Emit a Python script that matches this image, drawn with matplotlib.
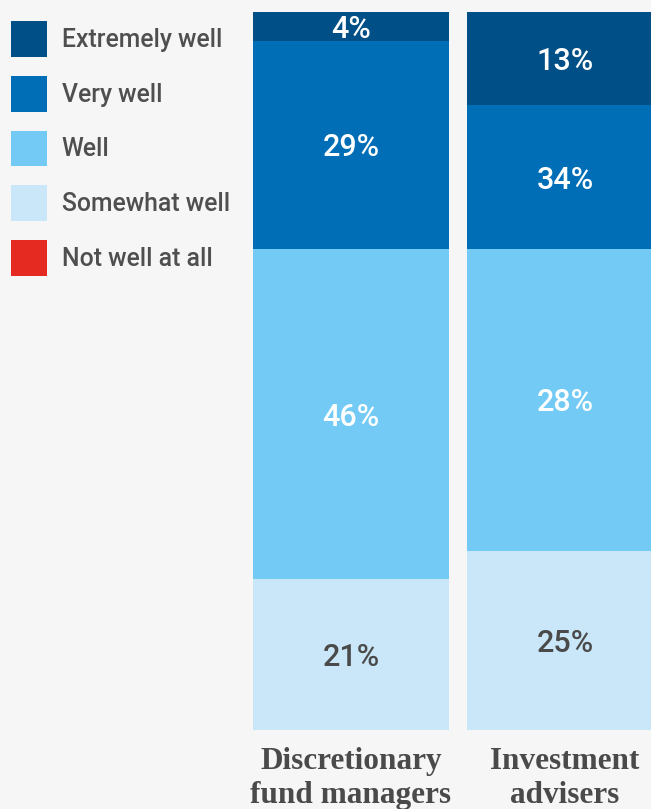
import numpy as np
import matplotlib.pyplot as plt
from matplotlib.patches import Patch

# categories (bars) and response levels
categories = ["Discretionary\nfund managers", "Investment\nadvisers"]
levels = ["Extremely well", "Very well", "Well", "Somewhat well", "Not well at all"]
colors = ["#004f86", "#006eb6", "#73cbf5", "#c9e7f9", "#e52a21"]

# segment heights (share of bar, %)
extremely = [4, 13]
very = [29, 20]
well = [46, 42]
somewhat = [21, 25]
not_well = [0, 0]

# labels as printed on the chart
extremely_lbl = ["4%", "13%"]
very_lbl = ["29%", "34%"]
well_lbl = ["46%", "28%"]
somewhat_lbl = ["21%", "25%"]

series = [extremely, very, well, somewhat, not_well]
series_lbl = [extremely_lbl, very_lbl, well_lbl, somewhat_lbl, None]
label_colors = ["white", "white", "white", "#4a4a4a", "white"]

bg = "#f6f6f6"
W, H = 651, 809
fig = plt.figure(figsize=(W / 100, H / 100), dpi=100, facecolor=bg)
ax = fig.add_axes([253 / W, 1 - 730 / H, 398 / W, 718 / H])
ax.set_facecolor(bg)

x = np.arange(len(categories))
width = 196 / 214
bottom = np.zeros(len(categories))
# stack from the top down: extremely well on top
for vals, lbls, col, lc in zip(series[::-1], series_lbl[::-1], colors[::-1], label_colors[::-1]):
    vals = np.array(vals, dtype=float)
    ax.bar(x, vals, width, bottom=bottom, color=col, linewidth=0)
    if lbls is not None:
        for xi, b, v, t in zip(x, bottom, vals, lbls):
            ax.text(xi, b + v / 2, t, ha="center", va="center_baseline", color=lc,
                    fontsize=22, family="Roboto", fontweight=500)
    bottom += vals

ax.set_xlim(-width / 2, -width / 2 + 398 / 214)
ax.set_ylim(0, 100)
ax.set_xticks(x)
ax.set_xticklabels(categories, family="Liberation Serif", fontweight="bold",
                   fontsize=22.5, color="#4a4a4a", linespacing=1.22)
ax.tick_params(axis="x", length=0, pad=12)
ax.set_yticks([])
for s in ax.spines.values():
    s.set_visible(False)

handles = [Patch(facecolor=c, edgecolor="none") for c in colors]
leg = fig.legend(handles, levels, loc="upper left",
                 bbox_to_anchor=(11 / W, 1 - 21 / H), frameon=False,
                 borderpad=0, borderaxespad=0,
                 handlelength=1.45, handleheight=1.85, handletextpad=0.6,
                 labelspacing=0.77,
                 prop={"family": "Roboto", "size": 17.8, "weight": 500})
for t in leg.get_texts():
    t.set_color("#4f4f4f")

fig.savefig("out.png", dpi=100, facecolor=bg)
